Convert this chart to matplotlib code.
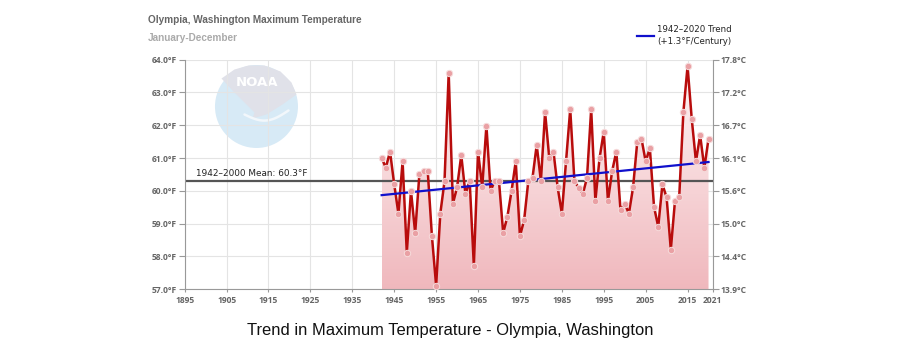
import numpy as np
import matplotlib
matplotlib.use("Agg")
import matplotlib.pyplot as plt
from matplotlib.patches import Circle, Polygon

years = list(range(1942, 2021))
temps_f = [61.0, 60.71, 61.2, 60.2, 59.31, 60.9, 58.12, 60.0, 58.72, 60.5,
           60.6, 60.6, 58.62, 57.11, 59.31, 60.29, 63.59, 59.61, 60.11, 61.09,
           59.9, 60.31, 57.72, 61.2, 60.11, 61.99, 60.0, 60.31, 60.3, 58.72,
           59.21, 60.0, 60.9, 58.62, 59.11, 60.3, 60.4, 61.4, 60.3, 62.4,
           61.0, 61.2, 60.11, 59.31, 60.9, 62.49, 60.3, 60.1, 59.9, 60.4,
           62.49, 59.7, 61.0, 61.8, 59.7, 60.6, 61.2, 59.41, 59.61, 59.31,
           60.11, 61.5, 61.59, 60.9, 61.3, 59.51, 58.91, 60.2, 59.8, 58.21,
           59.7, 59.8, 62.4, 63.8, 62.19, 60.9, 61.7, 60.7, 61.59]
mean_value = 60.3
trend_years = [1942, 2020]
trend_values = [59.87, 60.88]
y_ticks_f = [57.0, 58.0, 59.0, 60.0, 61.0, 62.0, 63.0, 64.0]
x_ticks = [1895, 1905, 1915, 1925, 1935, 1945, 1955, 1965, 1975, 1985, 1995, 2005, 2015, 2021]

TICKFONT = 'Open Sans'
TICKSIZE = 6.1

fig = plt.figure(figsize=(9, 3.53), dpi=100)
rect = [0.2052, 0.1805, 0.5867, 0.6504]

# NOAA watermark
logo_ax = fig.add_axes(rect, zorder=0.5)
logo_ax.set_xlim(0, 528); logo_ax.set_ylim(0, 229.6)
logo_ax.axis('off')
cx, cy, r = 256.5 - 184.7, 289.3 - 106.5, 41.5
logo_ax.add_patch(Circle((cx, cy), r, color='#d7eaf6', lw=0))
wing = [(cx - 35, cy + 28), (cx - 22, cy + 37), (cx - 8, cy + 41), (cx + 8, cy + 41),
        (cx + 24, cy + 35), (cx + 35, cy + 24), (cx + 40, cy + 12), (cx + 26, cy + 2),
        (cx + 10, cy - 8), (cx - 4, cy - 12), (cx - 2, cy - 6), (cx - 12, cy + 4),
        (cx - 24, cy + 16)]
logo_ax.add_patch(Polygon(wing, closed=True, color='#e0e1e9', lw=0))
t = np.linspace(0, 1, 30)
logo_ax.plot(cx - 12 + 44 * t, cy - 8 - 8 * np.sin(np.pi * t) + 4 * t,
             color='#f2f7fb', lw=1.8, solid_capstyle='round')
logo_ax.text(cx + 1, cy + 24, 'NOAA', color='white', fontsize=9.5, fontweight='bold',
             ha='center', va='center', family='DejaVu Sans')

ax = fig.add_axes(rect, zorder=1)
ax.patch.set_alpha(0)
ax.set_xlim(1895, 2021)
ax.set_ylim(57, 64)

for tk in x_ticks:
    ax.axvline(tk, color='#e4e4e4', lw=0.8, zorder=0)
for tk in y_ticks_f:
    ax.axhline(tk, color='#e4e4e4', lw=0.8, zorder=0)

# gradient fill
xs = np.array(years, dtype=float)
ys = np.array(temps_f)
verts = [(xs[0], 57)] + list(zip(xs, ys)) + [(xs[-1], 57)]
poly = Polygon(verts, closed=True, facecolor='none', edgecolor='none')
ax.add_patch(poly)
grad = np.linspace(0, 1, 256).reshape(-1, 1)
top = np.array([1.0, 0.97, 0.97])
bot = np.array([0.94, 0.72, 0.74])
img = top + (bot - top) * grad[:, :, None] * np.ones((1, 2, 1))
im = ax.imshow(img, extent=[xs[0], xs[-1], 57, 64], origin='upper', aspect='auto', zorder=1)
im.set_clip_path(poly)

# mean line
ax.axhline(mean_value, color='#555555', lw=1.6, zorder=2)
ax.text(1897.7, mean_value + 0.1, '1942–2000 Mean: 60.3°F', fontsize=6.4, color='#222222',
        ha='left', va='bottom', zorder=5)

# data line
ax.plot(xs, ys, color='#b80c0c', lw=1.8, zorder=3)
ax.plot(xs, ys, ls='none', marker='o', ms=4.6, mfc='#eaa0a4', mec='#f6dcdc', mew=0.7, zorder=4)

# trend
ax.plot(trend_years, trend_values, color='#1010cc', lw=1.6, zorder=3.5)

ax.spines['top'].set_visible(False)
ax.spines['right'].set_visible(False)
ax.spines['left'].set_color('#999999')
ax.spines['bottom'].set_color('#999999')
ax.set_yticks(y_ticks_f)
ax.set_yticklabels([f'{v:.1f}°F' for v in y_ticks_f])
ax.set_xticks(x_ticks)
ax.set_xticklabels([str(tk) for tk in x_ticks])
ax.tick_params(axis='y', colors='#999999', labelcolor='#666666', labelsize=TICKSIZE, length=4, width=0.8, pad=1.5)
ax.tick_params(axis='x', colors='#999999', labelcolor='#666666', labelsize=TICKSIZE, length=2, width=0.8, pad=2.5)
for lab in ax.get_xticklabels() + ax.get_yticklabels():
    lab.set_fontweight('bold')
    lab.set_family(TICKFONT)

ax2 = ax.twinx()
ax2.set_ylim(57, 64)
ax2.set_yticks(y_ticks_f)
ax2.set_yticklabels([f'{(v - 32) * 5 / 9:.1f}°C' for v in y_ticks_f])
for s in ['top', 'left', 'bottom']:
    ax2.spines[s].set_visible(False)
ax2.spines['right'].set_color('#999999')
ax2.tick_params(axis='y', colors='#999999', labelcolor='#666666', labelsize=TICKSIZE, length=4, width=0.8, pad=1.5)
for lab in ax2.get_yticklabels():
    lab.set_fontweight('bold')
    lab.set_family(TICKFONT)

# titles
fig.text(148 / 900, 1 - 20 / 353, 'Olympia, Washington Maximum Temperature', fontsize=7.2,
         fontweight='bold', color='#666666', ha='left', va='center', family='Liberation Sans')
fig.text(148 / 900, 1 - 38 / 353, 'January-December', fontsize=7.2,
         fontweight='bold', color='#aaaaaa', ha='left', va='center', family='Liberation Sans')

# legend
fig.add_artist(plt.Line2D([637 / 900, 654 / 900], [1 - 36 / 353, 1 - 36 / 353], color='#1010cc', lw=1.6))
fig.text(657 / 900, 1 - 30 / 353, '1942–2020 Trend', fontsize=6.2, color='#222222', ha='left', va='center')
fig.text(657 / 900, 1 - 42 / 353, '(+1.3°F/Century)', fontsize=6.2, color='#222222', ha='left', va='center')

fig.text(0.5, 1 - 330 / 353, 'Trend in Maximum Temperature - Olympia, Washington', fontsize=11.9,
         color='#111111', ha='center', va='center', family='Liberation Sans')

fig.savefig('out.png', dpi=100)
